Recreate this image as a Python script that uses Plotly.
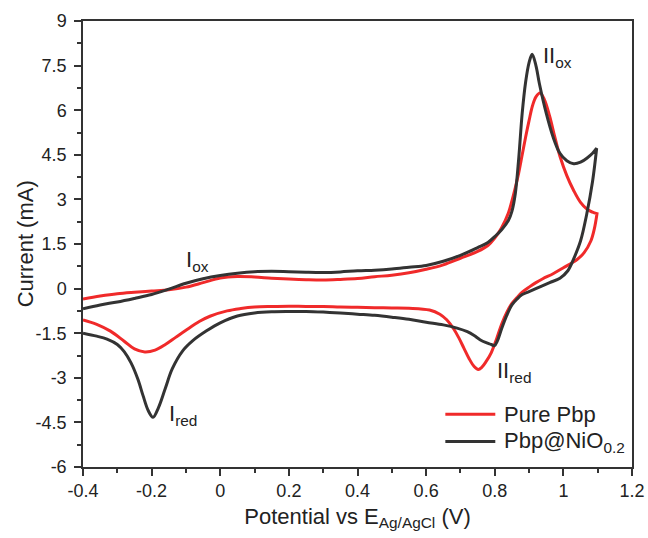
import plotly.graph_objects as go

# Cyclic voltammograms: anodic sweep (-0.4 -> 1.1 V) followed by cathodic sweep back to -0.4 V
pure_fwd_x = [-0.4, -0.35, -0.3, -0.25, -0.2, -0.15, -0.1, -0.05, 0.0, 0.05, 0.1, 0.15, 0.2, 0.25, 0.3,
              0.35, 0.4, 0.45, 0.5, 0.55, 0.6, 0.65, 0.7, 0.75, 0.78, 0.8, 0.82, 0.84, 0.85, 0.86, 0.87,
              0.88, 0.89, 0.9, 0.91, 0.92, 0.932, 0.945, 0.96, 0.975, 0.99, 1.01, 1.03, 1.05, 1.07, 1.085, 1.098]
pure_fwd_y = [-0.35, -0.25, -0.17, -0.12, -0.08, -0.04, 0.05, 0.2, 0.36, 0.41, 0.39, 0.35, 0.32, 0.3, 0.29,
              0.31, 0.34, 0.4, 0.45, 0.53, 0.65, 0.8, 1.02, 1.25, 1.45, 1.7, 2.05, 2.55, 2.95, 3.4, 3.9,
              4.5, 5.1, 5.65, 6.15, 6.45, 6.58, 6.35, 5.8, 5.1, 4.45, 3.8, 3.3, 2.9, 2.66, 2.57, 2.52]

pure_rev_x = [1.098, 1.09, 1.08, 1.06, 1.04, 1.0, 0.97, 0.94, 0.92, 0.9, 0.88, 0.865, 0.85, 0.835, 0.82,
              0.805, 0.79, 0.775, 0.762, 0.752, 0.74, 0.725, 0.71, 0.695, 0.68, 0.66, 0.64, 0.61, 0.55,
              0.5, 0.45, 0.4, 0.35, 0.3, 0.25, 0.2, 0.15, 0.1, 0.06, 0.02, -0.03, -0.06, -0.1, -0.13,
              -0.16, -0.19, -0.22, -0.25, -0.28, -0.32, -0.36, -0.4]
pure_rev_y = [2.52, 2.0, 1.6, 1.2, 0.98, 0.7, 0.5, 0.33, 0.2, 0.05, -0.12, -0.3, -0.5, -0.8, -1.2,
              -1.7, -2.15, -2.45, -2.65, -2.72, -2.62, -2.35, -2.0, -1.65, -1.35, -1.05, -0.86, -0.72, -0.66,
              -0.65, -0.64, -0.63, -0.62, -0.6, -0.6, -0.59, -0.6, -0.62, -0.67, -0.75, -0.93, -1.1, -1.4, -1.64,
              -1.88, -2.07, -2.13, -2.03, -1.77, -1.43, -1.2, -1.05]

nio_fwd_x = [-0.4, -0.35, -0.3, -0.25, -0.2, -0.15, -0.1, -0.05, 0.0, 0.05, 0.1, 0.15, 0.2, 0.25, 0.3,
             0.35, 0.4, 0.45, 0.5, 0.55, 0.6, 0.65, 0.7, 0.75, 0.78, 0.8, 0.82, 0.84, 0.85, 0.86, 0.87,
             0.88, 0.89, 0.9, 0.909, 0.92, 0.93, 0.95, 0.97, 0.99, 1.01, 1.03, 1.05, 1.07, 1.085, 1.097]
nio_fwd_y = [-0.68, -0.55, -0.45, -0.33, -0.2, -0.02, 0.18, 0.33, 0.44, 0.52, 0.57, 0.58, 0.57, 0.55, 0.54,
             0.56, 0.6, 0.62, 0.66, 0.72, 0.78, 0.92, 1.12, 1.38, 1.55, 1.75, 1.98, 2.3, 2.6, 3.2, 4.4,
             5.9, 6.95, 7.6, 7.88, 7.5, 6.9, 5.9, 5.1, 4.55, 4.3, 4.2, 4.25, 4.4, 4.55, 4.72]

nio_rev_x = [1.097, 1.085, 1.068, 1.05, 1.03, 1.013, 0.99, 0.96, 0.93, 0.9, 0.88, 0.865, 0.85, 0.835,
             0.82, 0.808, 0.799, 0.79, 0.775, 0.757, 0.74, 0.72, 0.69, 0.65, 0.6, 0.55, 0.5, 0.45, 0.4,
             0.35, 0.3, 0.25, 0.2, 0.15, 0.1, 0.05, 0.0, -0.04, -0.08, -0.11, -0.14, -0.16, -0.18,
             -0.196, -0.21, -0.225, -0.24, -0.26, -0.28, -0.3, -0.33, -0.36, -0.4]
nio_rev_y = [4.72, 3.6, 2.5, 1.6, 1.0, 0.6, 0.35, 0.2, 0.05, -0.1, -0.2, -0.35, -0.55, -0.9,
             -1.35, -1.75, -1.92, -1.88, -1.82, -1.72, -1.58, -1.45, -1.33, -1.22, -1.13, -1.03, -0.96, -0.9, -0.86,
             -0.82, -0.79, -0.77, -0.77, -0.78, -0.82, -0.92, -1.15, -1.42, -1.75, -2.1, -2.7, -3.35, -4.0,
             -4.33, -4.1, -3.6, -3.05, -2.5, -2.12, -1.88, -1.7, -1.6, -1.5]

series_names = ["Pure Pbp", "Pbp@NiO<sub>0.2</sub>"]
series_colors = ["#f02a2a", "#333333"]

x_ticks = [-0.4, -0.2, 0, 0.2, 0.4, 0.6, 0.8, 1, 1.2]
x_tick_text = ["-0.4", "-0.2", "0", "0.2", "0.4", "0.6", "0.8", "1", "1.2"]
y_ticks = [-6, -4.5, -3, -1.5, 0, 1.5, 3, 4.5, 6, 7.5, 9]
y_tick_text = ["-6", "-4.5", "-3", "-1.5", "0", "1.5", "3", "4.5", "6", "7.5", "9"]

# Peak labels: (text, x, y)
peak_labels = [
    ("I<sub>ox</sub>", -0.105, 0.92),
    ("I<sub>red</sub>", -0.155, -4.25),
    ("II<sub>red</sub>", 0.8, -2.8),
    ("II<sub>ox</sub>", 0.935, 7.8),
]

FONT = "Liberation Sans, Arial, sans-serif"
TEXT_COLOR = "#222222"

fig = go.Figure()
curves = [(pure_fwd_x + pure_rev_x, pure_fwd_y + pure_rev_y),
          (nio_fwd_x + nio_rev_x, nio_fwd_y + nio_rev_y)]
for (cx, cy), name, color in zip(curves, series_names, series_colors):
    fig.add_trace(go.Scatter(x=cx, y=cy, mode="lines", name=name,
                             line=dict(color=color, width=3, shape="spline", smoothing=1.0),
                             showlegend=False))

for text, ax, ay in peak_labels:
    fig.add_annotation(x=ax, y=ay, xref="x", yref="y", text=text, showarrow=False,
                       xanchor="left", yanchor="middle",
                       font=dict(family=FONT, size=22, color=TEXT_COLOR))

# Legend drawn as line samples plus labels in paper coordinates
legend_rows = [0.118, 0.057]
for yrow, name, color in zip(legend_rows, series_names, series_colors):
    fig.add_shape(type="line", xref="paper", yref="paper", x0=0.66, x1=0.751, y0=yrow, y1=yrow,
                  line=dict(color=color, width=3))
    fig.add_annotation(x=0.763, y=yrow, xref="paper", yref="paper", text=name, showarrow=False,
                       xanchor="left", yanchor="middle",
                       font=dict(family=FONT, size=22, color=TEXT_COLOR))

# Y-axis title placed directly so its distance from the tick labels can be set
fig.add_annotation(x=-0.105, y=0.5, xref="paper", yref="paper", text="Current (mA)",
                   textangle=-90, showarrow=False, xanchor="center", yanchor="middle",
                   font=dict(family=FONT, size=22, color=TEXT_COLOR))

axis_common = dict(showline=True, mirror=True, linecolor="#333333", linewidth=1.5,
                   ticks="outside", ticklen=7, tickwidth=1.5, tickcolor="#333333",
                   showgrid=False, zeroline=False,
                   tickfont=dict(family=FONT, size=18, color=TEXT_COLOR))

fig.update_xaxes(range=[-0.4, 1.2], tickmode="array", tickvals=x_ticks, ticktext=x_tick_text,
                 minor=dict(tickmode="linear", tick0=-0.4, dtick=0.1, ticks="outside", ticklen=4,
                            tickwidth=1.5, tickcolor="#333333"),
                 title=dict(text="Potential vs E<sub>Ag/AgCl</sub> (V)", standoff=8,
                            font=dict(family=FONT, size=22, color=TEXT_COLOR)),
                 **axis_common)
fig.update_yaxes(range=[-6, 9], tickmode="array", tickvals=y_ticks, ticktext=y_tick_text,
                 minor=dict(tickmode="linear", tick0=-6, dtick=0.75, ticks="outside", ticklen=4,
                            tickwidth=1.5, tickcolor="#333333"),
                 ticklabelstandoff=4,
                 **axis_common)

fig.update_layout(width=648, height=538, margin=dict(l=83, r=16, t=21, b=71, autoexpand=False),
                  paper_bgcolor="white", plot_bgcolor="white", showlegend=False)

fig.write_html("out.html")
